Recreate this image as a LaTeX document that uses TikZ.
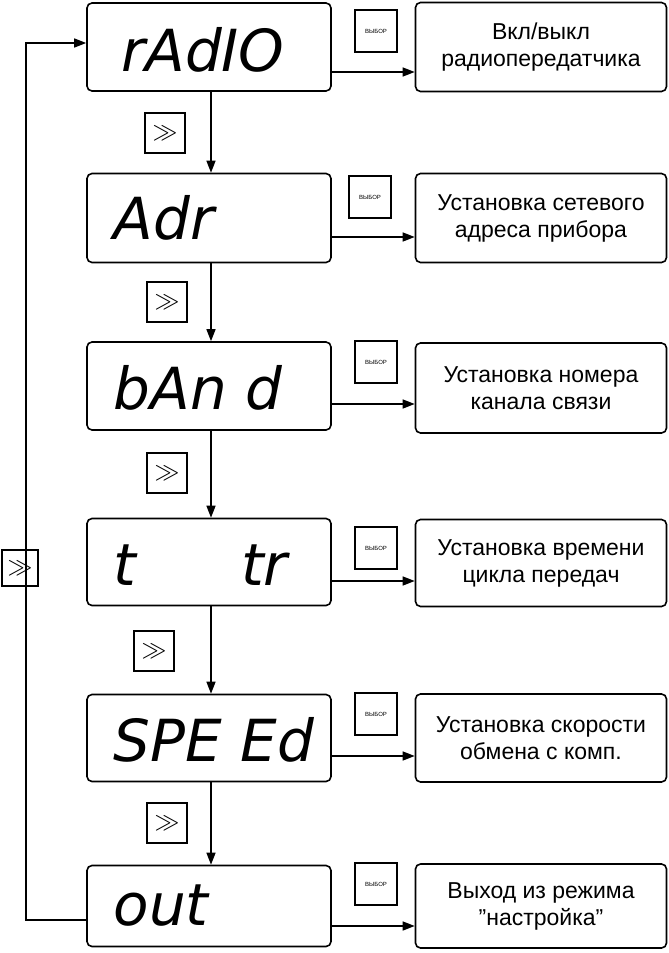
\documentclass[tikz,border=0pt]{standalone}
\usepackage{fontspec}
\setmainfont{Liberation Sans}
\newfontfamily\segfont{DejaVu Sans}
\usetikzlibrary{positioning,arrows.meta}

\begin{document}
\begin{tikzpicture}[x=1pt,y=-1pt,
  disp/.style={draw, line width=1.6pt, rounded corners=5pt, minimum width=244pt, inner sep=0pt},
  info/.style={draw, line width=1.6pt, rounded corners=5pt, minimum width=251pt, inner sep=0pt, align=center, font=\fontsize{23}{27}\selectfont},
  btn/.style={draw, line width=1.2pt, minimum size=42pt, inner sep=0pt, font=\fontsize{6}{7}\selectfont},
  nxt/.style={draw, line width=1.2pt, minimum size=40pt, inner sep=0pt, font=\fontsize{36}{36}\selectfont},
  seg/.style={anchor=west, font=\segfont\itshape\fontsize{58}{58}\selectfont},
  conn/.style={line width=1.4pt, -{Triangle[length=12pt,width=9pt]}}]
  \useasboundingbox (0,0) rectangle (669,953);
  % displays
  \node[disp, minimum height=88pt] (D1) at (209,47) {};
  \node[disp, minimum height=89pt] (D2) at (209,218) {};
  \node[disp, minimum height=88pt] (D3) at (209,386) {};
  \node[disp, minimum height=87pt] (D4) at (209,562) {};
  \node[disp, minimum height=87pt] (D5) at (209,738) {};
  \node[disp, minimum height=81pt] (D6) at (209,906) {};
  \node[seg] at (118,50) {rAdIO};
  \node[seg] at (110,218) {Adr};
  \node[seg] at (110,388) {bAn d};
  \node[seg] at (110,565) {t\hspace{105pt}tr};
  \node[seg] at (110,740) {SPE Ed};
  \node[seg] at (110,906) {out};
  % descriptions
  \node[info, minimum height=89pt] (I1) at (541,47) {Вкл/выкл\\радиопередатчика};
  \node[info, minimum height=89pt] (I2) at (541,218) {Установка сетевого\\адреса прибора};
  \node[info, minimum height=90pt] (I3) at (541,388) {Установка номера\\канала связи};
  \node[info, minimum height=87pt] (I4) at (541,563) {Установка времени\\цикла передач};
  \node[info, minimum height=88pt] (I5) at (541,738) {Установка скорости\\обмена с комп.};
  \node[info, minimum height=84pt] (I6) at (541,906) {Выход из режима\\”настройка”};
  % buttons
  \node[btn] (B1) at (376,31) {ВЫБОР};
  \node[btn] (B2) at (370,197) {ВЫБОР};
  \node[btn] (B3) at (376,362) {ВЫБОР};
  \node[btn] (B4) at (376,548) {ВЫБОР};
  \node[btn] (B5) at (376,714) {ВЫБОР};
  \node[btn] (B6) at (376,884) {ВЫБОР};
  \node[nxt] (N1) at (165,133) {$\gg$};
  \node[nxt] (N2) at (167,302) {$\gg$};
  \node[nxt] (N3) at (167,473) {$\gg$};
  \node[nxt] (N4) at (154,651) {$\gg$};
  \node[nxt] (N5) at (167,823) {$\gg$};
  \node[nxt, minimum size=36pt, font=\fontsize{32}{32}\selectfont] (N0) at (20,568) {$\gg$};
  % connectors
  \draw[conn] (211,91) -- (D2.north -| 211,0);
  \draw[conn] (211,262) -- (D3.north -| 211,0);
  \draw[conn] (211,430) -- (D4.north -| 211,0);
  \draw[conn] (211,606) -- (D5.north -| 211,0);
  \draw[conn] (211,781) -- (D6.north -| 211,0);
  \draw[conn] (D1.east |- 0,72) -- (I1.west |- 0,72);
  \draw[conn] (D2.east |- 0,237) -- (I2.west |- 0,237);
  \draw[conn] (D3.east |- 0,404) -- (I3.west |- 0,404);
  \draw[conn] (D4.east |- 0,581) -- (I4.west |- 0,581);
  \draw[conn] (D5.east |- 0,756) -- (I5.west |- 0,756);
  \draw[conn] (D6.east |- 0,926) -- (I6.west |- 0,926);
  \draw[conn] (D6.west |- 0,920) -- (26,920) -- (26,43) -- (D1.west |- 0,43);
\end{tikzpicture}
\end{document}
